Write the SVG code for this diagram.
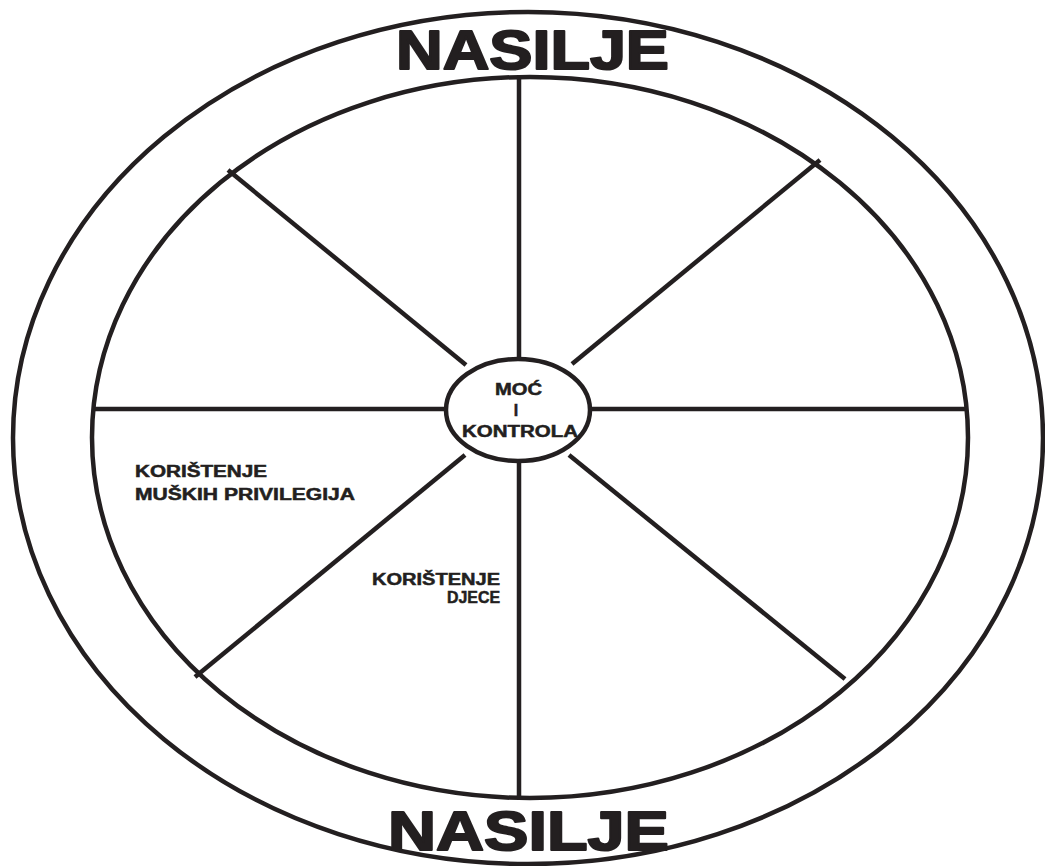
<svg xmlns="http://www.w3.org/2000/svg" width="1045" height="866" viewBox="0 0 1045 866">
<style>
.ln{stroke:#231f20;stroke-width:4.5;fill:none}
.big{font-family:"Liberation Sans",Arial,sans-serif;font-weight:bold;font-size:55px;fill:#231f20;stroke:#231f20;stroke-width:2;stroke-linejoin:round}
.sm{font-family:"Liberation Sans",Arial,sans-serif;font-weight:bold;font-size:16px;fill:#231f20;stroke:#231f20;stroke-width:0.5}
</style>
<rect width="1045" height="866" fill="#fff"/>
<g id="outer-ring">
<ellipse class="ln" cx="528" cy="438" rx="515" ry="426"/>
<ellipse class="ln" cx="530" cy="437.5" rx="438" ry="360.5"/>
</g>
<g id="connectors">
<line class="ln" x1="519" y1="77" x2="519" y2="358"/>
<line class="ln" x1="519" y1="462" x2="519" y2="798"/>
<line class="ln" x1="92" y1="409" x2="446" y2="409"/>
<line class="ln" x1="590" y1="409" x2="968" y2="409"/>
<line class="ln" x1="228" y1="170" x2="466" y2="365"/>
<line class="ln" x1="820" y1="160" x2="572" y2="364"/>
<line class="ln" x1="195" y1="677" x2="465" y2="455"/>
<line class="ln" x1="845" y1="679" x2="569" y2="455"/>
</g>
<g id="center">
<ellipse class="ln" cx="518" cy="410" rx="72" ry="51" fill="#fff"/>
<text class="sm" x="495" y="395" textLength="47" lengthAdjust="spacingAndGlyphs">MOĆ</text>
<text class="sm" x="516" y="416" text-anchor="middle">I</text>
<text class="sm" x="462" y="437" textLength="116" lengthAdjust="spacingAndGlyphs">KONTROLA</text>
</g>
<g id="title-top">
<text class="big" x="396" y="69" textLength="273" lengthAdjust="spacingAndGlyphs">NASILJE</text>
</g>
<g id="title-bottom">
<text class="big" x="388" y="850" textLength="281" lengthAdjust="spacingAndGlyphs">NASILJE</text>
</g>
<g id="label-privilegije">
<text class="sm" x="135" y="477" textLength="132" lengthAdjust="spacingAndGlyphs">KORIŠTENJE</text>
<text class="sm" x="135" y="500" textLength="220" lengthAdjust="spacingAndGlyphs">MUŠKIH PRIVILEGIJA</text>
</g>
<g id="label-djeca">
<text class="sm" x="372" y="585" textLength="128" lengthAdjust="spacingAndGlyphs">KORIŠTENJE</text>
<text class="sm" x="447" y="603" textLength="53" lengthAdjust="spacingAndGlyphs">DJECE</text>
</g>
</svg>
